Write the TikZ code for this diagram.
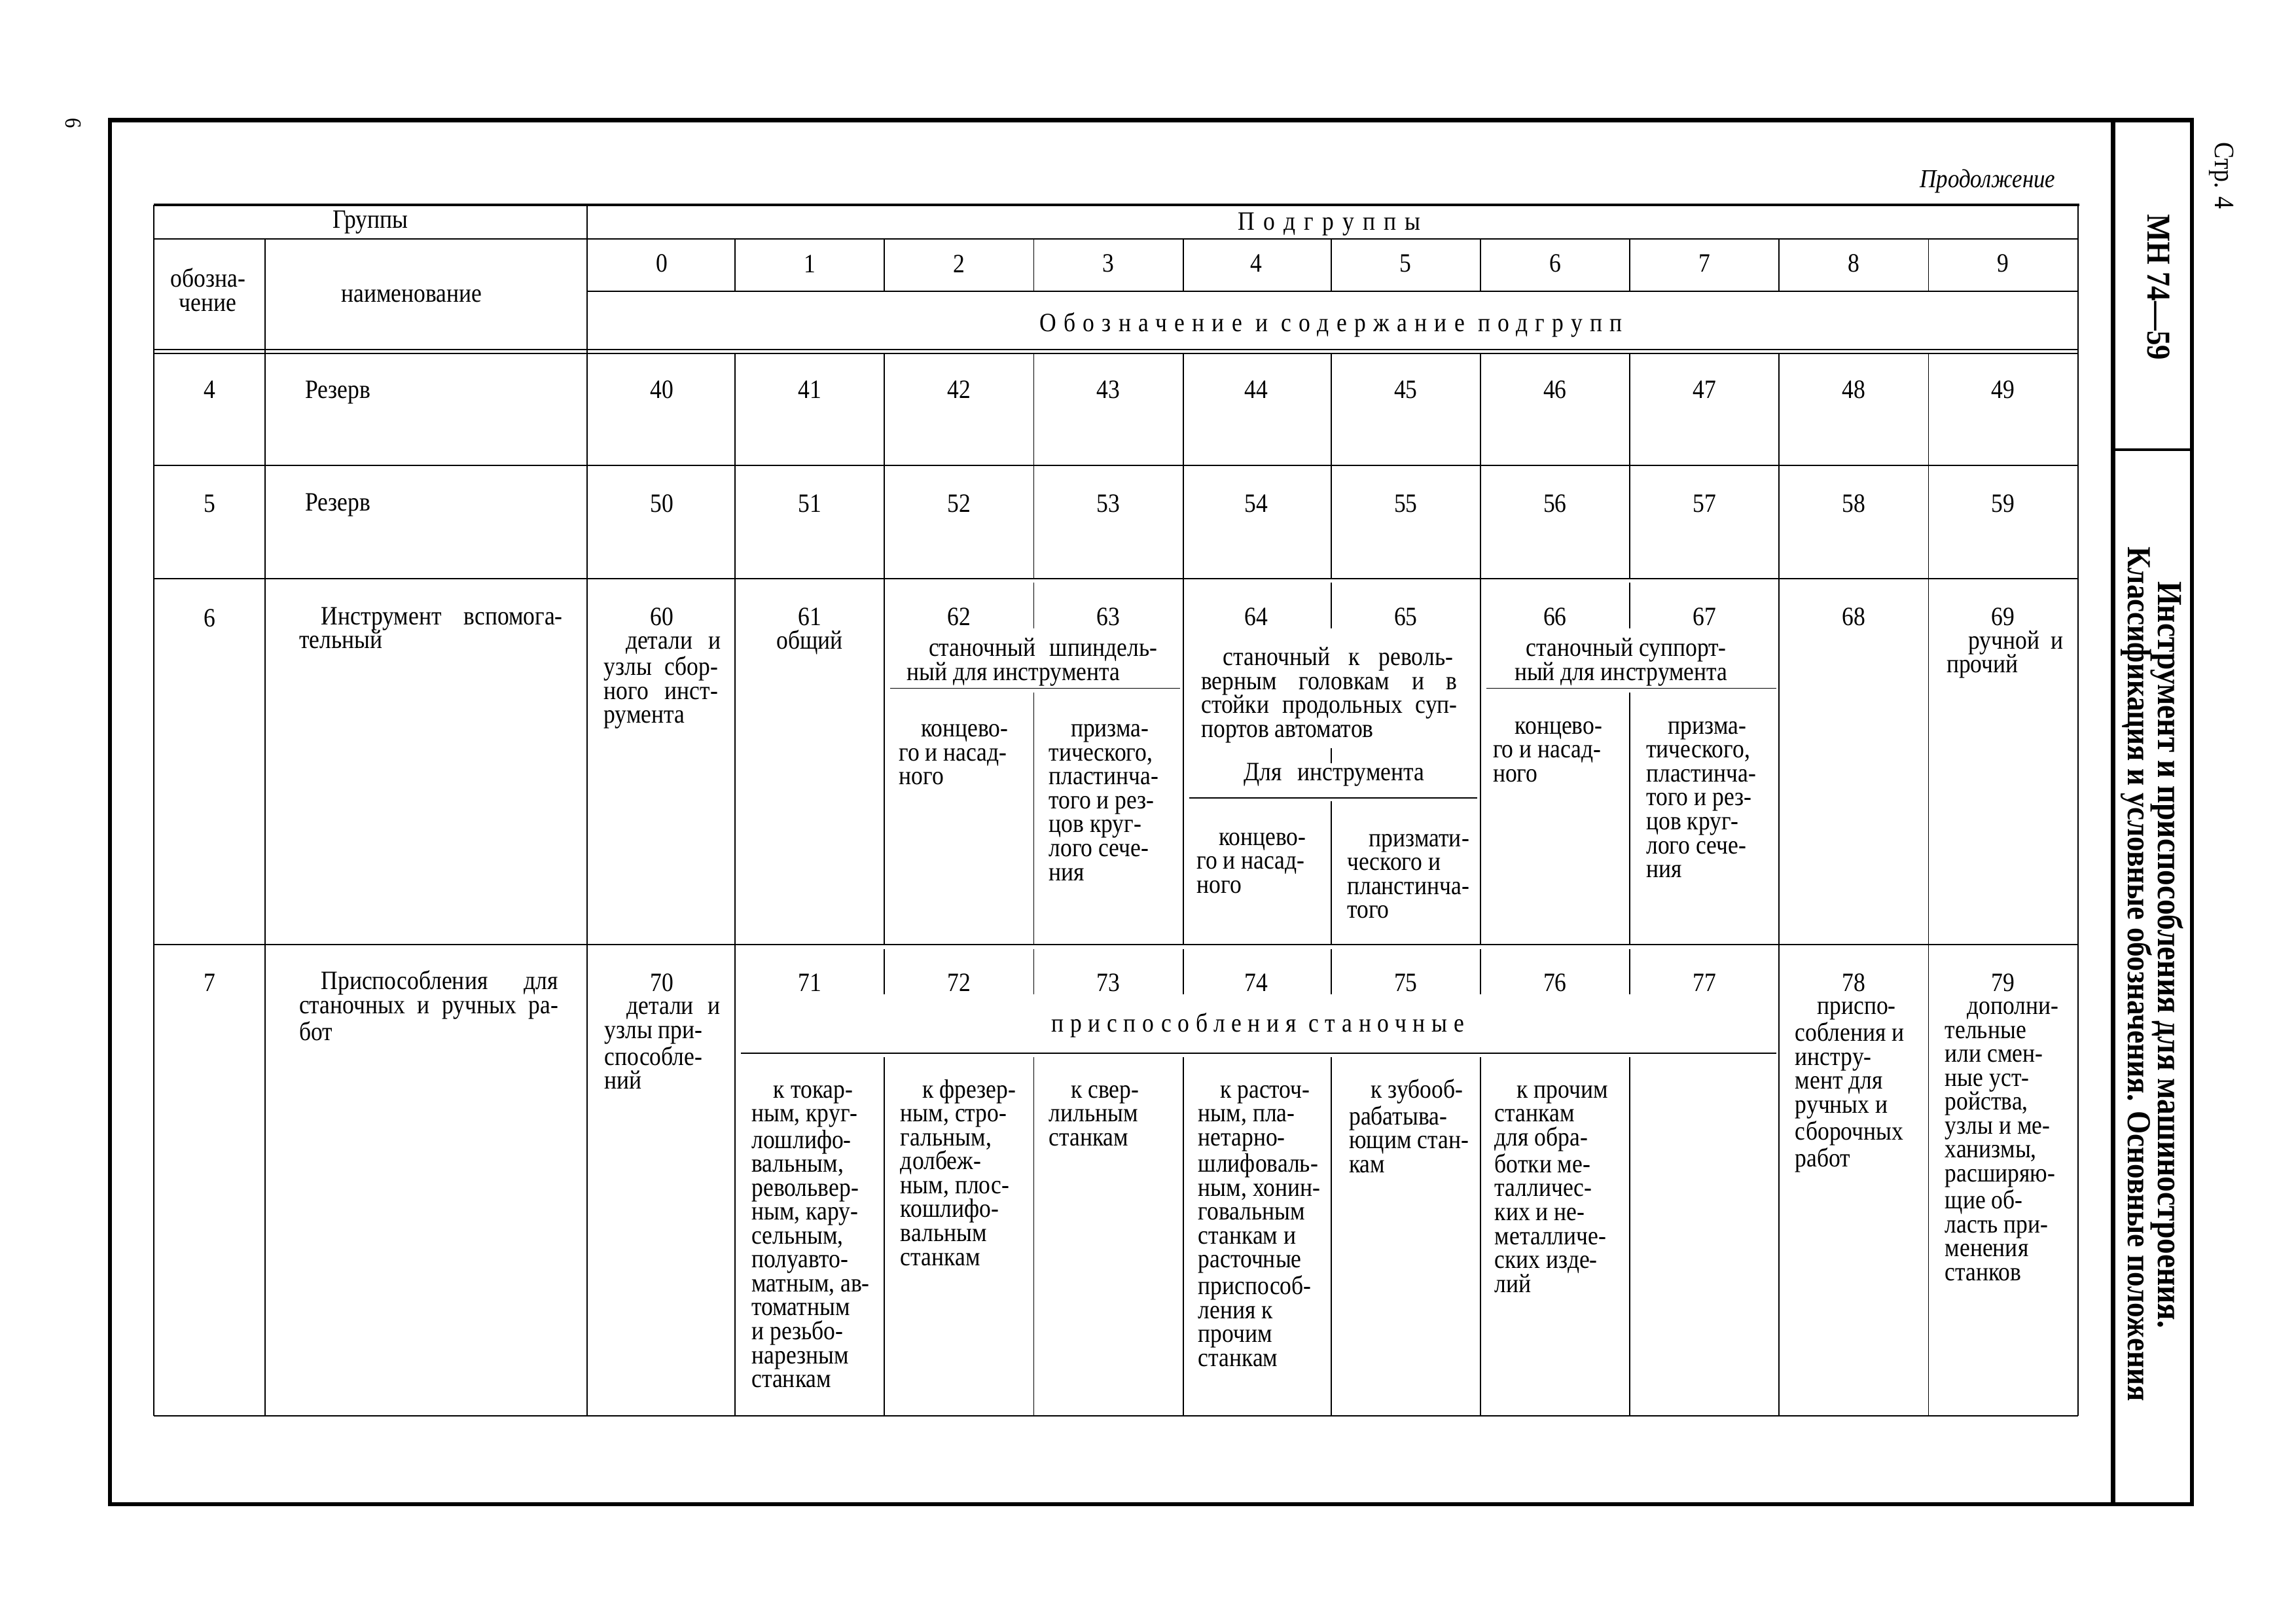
\documentclass[tikz,border=0pt]{standalone}
\usepackage{fontspec}
\setmainfont{Liberation Serif}[FakeStretch=0.88]
\newdimen\UU \UU=0.22372mm
\newcommand\cf{\fontsize{11.5pt}{10.4pt}\selectfont}
\newcommand\st{\rule{0pt}{8.5pt}}
\newcommand\ind{\hspace*{15\UU}}
\newcommand\J[2]{\makebox[#1\UU][s]{#2}}
\tikzset{
 tline/.style={line width=0.55pt, black},
 tthick/.style={line width=1.1pt, black},
 tframe/.style={line width=1.8pt, black},
 lbl/.style={inner sep=0pt, font=\cf},
 cl/.style={anchor=north west, inner sep=0pt, font=\cf, align=left},
 spaced/.style={inner sep=0pt, font={\cf\addfontfeatures{LetterSpace=#1}}}
}
\begin{document}
\begin{tikzpicture}[x=0.22372mm, y=-0.22372mm]
\fill[white] (0,0) rectangle (1568,1108.6);
\useasboundingbox (0,0) rectangle (1568,1108.6);

% ---------- page frame ----------
\draw[tframe] (75,82) -- (1497,82) -- (1497,1027) -- (75,1027) -- cycle;
\draw[tframe] (1443,82) -- (1443,1027);
\draw[tthick] (1443,307) -- (1497,307);

\node[inner sep=0pt, font=\fontsize{10pt}{10pt}\selectfont, rotate=-90] (pg6) at (50,84) {6};
\node[inner sep=0pt, font=\fontsize{12.2pt}{12.2pt}\selectfont, rotate=-90] (str) at (1517,120) {Стр. 4};
\node[inner sep=0pt, font=\fontsize{14.5pt}{14.5pt}\selectfont\bfseries, rotate=-90] (mn) at (1474,196) {МН 74—59};
\node[inner sep=0pt, font=\fontsize{15.3pt}{15.3pt}\selectfont\bfseries, rotate=-90] (title1) at (1480,652) {Инструмент и приспособления для машиностроения.};
\node[inner sep=0pt, font=\fontsize{14.6pt}{14.6pt}\selectfont\bfseries, rotate=-90] (title2) at (1459,665) {Классификация и условные обозначения. Основные положения};
\node[inner sep=0pt, anchor=east, font=\fontsize{11.3pt}{11.3pt}\selectfont\itshape] (prod) at (1404,124) {Продолжение};

% ---------- table lines ----------
\draw[tthick] (105,140) -- (1420,140);
\draw[tline] (105,140) -- (105,967);
\draw[tline] (181,163) -- (181,967);
\draw[tline] (401,140) -- (401,967);
\draw[tline] (1419,140) -- (1419,967);
\draw[tline] (105,163) -- (1419,163);
\foreach \x in {502,604,706,808,909,1011,1113,1215,1317} \draw[tline] (\x,163) -- (\x,199);
\draw[tline] (401,199) -- (1419,199);
\draw[tline] (105,238.5) -- (1419,238.5);
\draw[tline] (105,241.5) -- (1419,241.5);
\foreach \x in {502,604,706,808,909,1011,1113,1215,1317} \draw[tline] (\x,241.5) -- (\x,395);
\draw[tline] (105,318) -- (1419,318);
\draw[tline] (105,395) -- (1419,395);
\draw[tline] (105,645) -- (1419,645);
\draw[tline] (105,967) -- (1419,967);
% row 6
\foreach \x in {502,604,808,1011,1215,1317} \draw[tline] (\x,395) -- (\x,645);
\foreach \x in {706,909,1113} \draw[tline] (\x,398) -- (\x,429);
\draw[tline] (608,470) -- (806,470);
\draw[tline] (706,473) -- (706,645);
\draw[tline] (909,511) -- (909,521);
\draw[tline] (812,545) -- (1009,545);
\draw[tline] (909,547) -- (909,645);
\draw[tline] (1015,470) -- (1213,470);
\draw[tline] (1113,473) -- (1113,645);
% row 7
\foreach \x in {502,1215,1317} \draw[tline] (\x,645) -- (\x,967);
\foreach \x in {604,706,808,909,1011,1113} {
  \draw[tline] (\x,648) -- (\x,679);
  \draw[tline] (\x,722) -- (\x,967);
}
\draw[tline] (506,719) -- (1213,719);

% ---------- header texts ----------
\node[lbl] (hgr) at (253,152) {Группы};
\node[spaced=33] (hpg) at (908,153) {Подгруппы};
\node[lbl, align=center] (hobz) at (142,198) {обозна-\\чение};
\node[lbl] (hnaim) at (281,202) {наименование};
\node[spaced=28] (hobs) at (909,222) {Обозначение и содержание подгрупп};

\foreach \i/\x in {0/452,1/553,2/655,3/757,4/858,5/960,6/1062,7/1164,8/1266,9/1368} {
  \node[lbl] (h\i) at (\x,180) {\i};
  \node[lbl] (c4\i) at (\x,266) {4\i};
  \node[lbl] (c5\i) at (\x,344) {5\i};
  \node[lbl] (c6\i) at (\x,421) {6\i};
  \node[lbl] (c7\i) at (\x,671) {7\i};
}

% ---------- rows 4, 5 ----------
\node[lbl] (g4) at (143,266) {4};
\node[lbl, anchor=west] (r4) at (208,268) {Резерв};
\node[lbl] (g5) at (143,344) {5};
\node[lbl, anchor=west] (r5) at (208,345) {Резерв};

% ---------- row 6 ----------
\node[lbl] (g6) at (143,422) {6};
\node[cl] (n6) at (204,412.8) {\st\J{180}{\ind Инструмент вспомога-}\\тельный};
\node[cl] (t60) at (412,429.4) {\st\J{80}{\ind детали и}\\\J{78}{узлы сбор-}\\\J{78}{ного инст-}\\румента};
\node[lbl] (t61) at (553,438.6) {общий};
\node[cl] (t6a) at (619,434.6) {\st\J{171}{\ind станочный шпиндель-}\\ный для инструмента};
\node[cl] (t62) at (613.6,489.5) {\st\ind концево-\\го и насад-\\ного};
\node[cl] (t63) at (716,489.5) {\st\ind призма-\\тического,\\пластинча-\\того и рез-\\цов круг-\\лого сече-\\ния};
\node[cl] (t6b) at (820,440.7) {\st\J{172}{\ind станочный к револь-}\\\J{175}{верным головкам и в}\\\J{175}{стойки продольных суп-}\\портов автоматов};
\node[lbl] (t6c) at (911,529) {Для\hspace{0.6em}инструмента};
\node[cl] (t64) at (817,563.5) {\st\ind концево-\\го и насад-\\ного};
\node[cl] (t65) at (919.7,564.4) {\st\ind призмати-\\ческого и\\планстинча-\\того};
\node[cl] (t6d) at (1034,434.6) {\st\hspace*{8\UU}станочный суппорт-\\ный для инструмента};
\node[cl] (t66) at (1019.3,487.5) {\st\ind концево-\\го и насад-\\ного};
\node[cl] (t67) at (1124,487.5) {\st\ind призма-\\тического,\\пластинча-\\того и рез-\\цов круг-\\лого сече-\\ния};
\node[cl] (t69) at (1329,429.4) {\st\J{80}{\ind ручной и}\\прочий};

% ---------- row 7 ----------
\node[lbl] (g7) at (143,671) {7};
\node[cl] (n7) at (204,662) {\st\J{177}{\ind Приспособления для}\\\J{177}{станочных и ручных ра-}\\бот};
\node[cl] (t70) at (412.5,679) {\st\J{79}{\ind детали и}\\узлы при-\\способле-\\ний};
\node[spaced=24] (t7s) at (859,700) {приспособления станочные};
\node[cl] (t71) at (513,736) {\st\ind к токар-\\ным, круг-\\лошлифо-\\вальным,\\револьвер-\\ным, кару-\\сельным,\\полуавто-\\матным, ав-\\томатным\\и резьбо-\\нарезным\\станкам};
\node[cl] (t72) at (614.7,736) {\st\ind к фрезер-\\ным, стро-\\гальным,\\долбеж-\\ным, плос-\\кошлифо-\\вальным\\станкам};
\node[cl] (t73) at (716,736) {\st\ind к свер-\\лильным\\станкам};
\node[cl] (t74) at (818,736) {\st\ind к расточ-\\ным, пла-\\нетарно-\\шлифоваль-\\ным, хонин-\\говальным\\станкам и\\расточные\\приспособ-\\ления к\\прочим\\станкам};
\node[cl] (t75) at (921,736) {\st\ind к зубооб-\\рабатыва-\\ющим стан-\\кам};
\node[cl] (t76) at (1020.5,736) {\st\ind к прочим\\станкам\\для обра-\\ботки ме-\\талличес-\\ких и не-\\металличе-\\ских изде-\\лий};
\node[cl] (t78) at (1225.7,679) {\st\ind приспо-\\собления и\\инстру-\\мент для\\ручных и\\сборочных\\работ};
\node[cl] (t79) at (1328,679) {\st\ind дополни-\\тельные\\или смен-\\ные уст-\\ройства,\\узлы и ме-\\ханизмы,\\расширяю-\\щие об-\\ласть при-\\менения\\станков};
\end{tikzpicture}
\end{document}
